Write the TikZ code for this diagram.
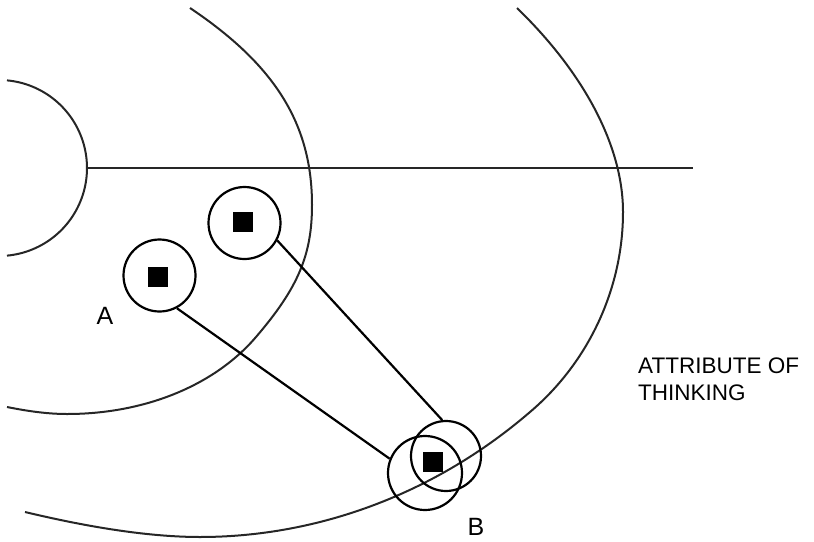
\documentclass[tikz,border=0pt]{standalone}
\usepackage{fontspec}
\setmainfont{Liberation Sans}
\begin{document}
\begin{tikzpicture}[x=1pt,y=-1pt,
  curve/.style={line width=2pt, black!85},
  ring/.style={circle, draw, line width=2.2pt, minimum size=72pt, inner sep=0pt},
  dot/.style={rectangle, fill=black, minimum size=20pt, inner sep=0pt},
  link/.style={line width=2.2pt},
  letter/.style={font=\fontsize{25}{25}\selectfont, inner sep=0pt},
  caption/.style={font=\fontsize{22.5}{27}\selectfont, inner sep=0pt, anchor=base west}]
\useasboundingbox (0,0) rectangle (814,541);
% inner half circle
\draw[curve] plot[domain=-84.8:84.8, samples=80] ({-1+88*cos(\x)},{168+88*sin(\x)});
% horizontal line
\coordinate (hl) at (87,168);
\coordinate (hr) at (693,168);
\draw[curve] (hl) -- (hr);
% middle arc
\draw[curve] (190,8) .. controls (275,65) and (312,124) .. (312,205)
  .. controls (312,255) and (298,288) .. (256,337)
  .. controls (214,386) and (144,414) .. (67,414)
  .. controls (47,414) and (27,411) .. (7,407);
% outer arc
\draw[curve] (517,8) .. controls (585,74) and (623,147) .. (623,212)
  .. controls (623,288) and (589,362) .. (530,412)
  .. controls (436,493) and (319,537) .. (200,537)
  .. controls (154,537) and (96,529) .. (25,512);
% small circles
\node[ring] (ca) at (159.5,275.5) {};
\node[dot] (sa) at (158,277) {};
\node[ring] (cb) at (244.5,223) {};
\node[dot] (sb) at (243,222) {};
\node[ring, minimum size=74pt] (cbl) at (425,473) {};
\node[ring, minimum size=70pt] (cbr) at (446,456) {};
\node[dot] (sc) at (433,462) {};
% connectors
\draw[link] (ca.298) -- (cbl.158);
\draw[link] (cb.332) -- (cbr.96);
% labels
\node[letter] (la) at (105,316) {A};
\node[letter] (lb) at (476,527) {B};
\node[caption] (t1) at (638,373) {ATTRIBUTE OF};
\node[caption] (t2) at (638,400) {THINKING};
\end{tikzpicture}
\end{document}
